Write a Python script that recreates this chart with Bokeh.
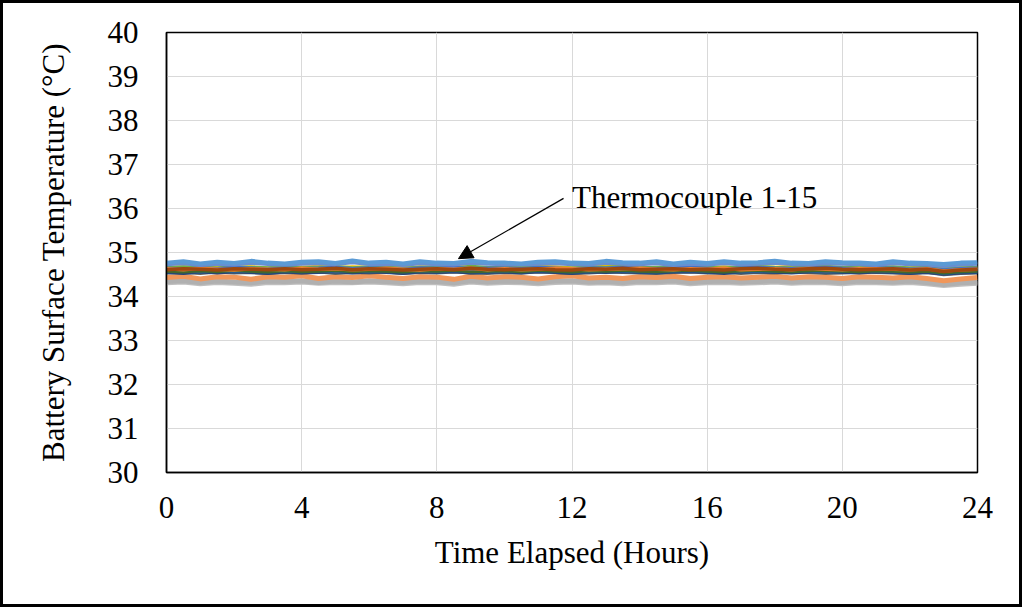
from bokeh.plotting import figure
from bokeh.models import Range1d, FixedTicker, Arrow, NormalHead, Label
from bokeh.embed import file_html
from bokeh.resources import INLINE

hours = [0, 0.5, 1, 1.5, 2, 2.5, 3, 3.5, 4, 4.5, 5, 5.5, 6, 6.5, 7, 7.5, 8, 8.5, 9, 9.5,
         10, 10.5, 11, 11.5, 12, 12.5, 13, 13.5, 14, 14.5, 15, 15.5, 16, 16.5, 17, 17.5,
         18, 18.5, 19, 19.5, 20, 20.5, 21, 21.5, 22, 22.5, 23, 23.5, 24]

tc1 = [34.64,34.62,34.65,34.63,34.66,34.64,34.62, 34.65,34.63,34.64,34.66,34.63,34.65,34.64,
       34.62,34.65,34.64,34.66,34.63,34.64,34.65, 34.63,34.66,34.64,34.62,34.65,34.64,34.66,
       34.64,34.63,34.65,34.66,34.64,34.62,34.65, 34.66,34.64,34.63,34.65,34.66,34.64,34.63,
       34.65,34.64,34.62,34.64,34.60,34.63,34.64]
tc2 = [34.63,34.61,34.64,34.62,34.60,34.63,34.62, 34.61,34.64,34.62,34.63,34.61,34.62,34.64,
       34.62,34.60,34.63,34.62,34.64,34.61,34.63, 34.61,34.62,34.64,34.63,34.61,34.62,34.63,
       34.64,34.62,34.61,34.63,34.62,34.64,34.61, 34.62,34.63,34.61,34.64,34.62,34.61,34.63,
       34.63,34.62,34.61,34.63,34.58,34.61,34.62]
tc3 = [34.34,34.36,34.32,34.35,34.33,34.31,34.35, 34.34,34.36,34.32,34.35,34.33,34.36,34.34,
       34.32,34.35,34.34,34.31,34.36,34.33,34.35, 34.34,34.32,34.35,34.36,34.33,34.34,34.32,
       34.35,34.34,34.36,34.32,34.34,34.35,34.33, 34.34,34.36,34.33,34.35,34.34,34.32,34.35,
       34.34,34.33,34.35,34.32,34.27,34.31,34.33]
tc4 = [34.66,34.67,34.65,34.68,34.66,34.67,34.65, 34.67,34.66,34.68,34.65,34.67,34.66,34.68,
       34.65,34.67,34.66,34.68,34.66,34.65,34.67, 34.66,34.68,34.67,34.65,34.66,34.68,34.67,
       34.66,34.65,34.67,34.68,34.66,34.67,34.65, 34.67,34.66,34.68,34.67,34.65,34.66,34.68,
       34.67,34.66,34.65,34.67,34.63,34.65,34.66]
tc5 = [34.77,34.80,34.75,34.79,34.76,34.81,34.77, 34.75,34.79,34.80,34.76,34.82,34.77,34.79,
       34.75,34.80,34.77,34.76,34.81,34.78,34.77, 34.75,34.79,34.80,34.77,34.76,34.81,34.78,
       34.77,34.80,34.75,34.79,34.76,34.80,34.77, 34.78,34.81,34.77,34.76,34.80,34.78,34.77,
       34.75,34.80,34.77,34.76,34.74,34.77,34.78]
tc6 = [34.65,34.67,34.66,34.64,34.67,34.66,34.65, 34.67,34.65,34.66,34.68,34.65,34.67,34.66,
       34.64,34.66,34.67,34.65,34.68,34.66,34.65, 34.66,34.67,34.65,34.64,34.67,34.66,34.68,
       34.65,34.66,34.67,34.65,34.66,34.64,34.67, 34.68,34.66,34.65,34.67,34.68,34.66,34.65,
       34.66,34.67,34.64,34.66,34.62,34.65,34.66]
tc7 = [34.55,34.53,34.56,34.54,34.57,34.55,34.53, 34.56,34.54,34.55,34.57,34.54,34.56,34.55,
       34.53,34.56,34.55,34.57,34.54,34.55,34.56, 34.54,34.57,34.55,34.53,34.56,34.55,34.57,
       34.55,34.54,34.56,34.57,34.55,34.53,34.56, 34.57,34.55,34.54,34.56,34.57,34.55,34.54,
       34.56,34.55,34.53,34.55,34.51,34.54,34.55]
tc8 = [34.61,34.63,34.62,34.60,34.63,34.62,34.61, 34.63,34.61,34.62,34.64,34.61,34.63,34.62,
       34.60,34.62,34.63,34.61,34.64,34.62,34.61, 34.62,34.63,34.61,34.60,34.63,34.62,34.64,
       34.61,34.62,34.63,34.61,34.62,34.60,34.63, 34.64,34.62,34.61,34.63,34.64,34.62,34.61,
       34.62,34.63,34.60,34.62,34.57,34.60,34.62]
tc9 = [34.54,34.55,34.53,34.56,34.54,34.55,34.53, 34.55,34.54,34.56,34.53,34.55,34.54,34.56,
       34.53,34.55,34.54,34.56,34.54,34.53,34.55, 34.54,34.56,34.55,34.53,34.54,34.56,34.55,
       34.54,34.53,34.55,34.56,34.54,34.55,34.53, 34.55,34.54,34.56,34.55,34.53,34.54,34.56,
       34.55,34.54,34.53,34.55,34.50,34.53,34.54]
tc10 = [34.60,34.61,34.59,34.62,34.60,34.61,34.59, 34.61,34.60,34.62,34.59,34.61,34.60,34.62,
        34.59,34.61,34.60,34.62,34.60,34.59,34.61, 34.60,34.62,34.61,34.59,34.60,34.62,34.61,
        34.60,34.59,34.61,34.62,34.60,34.61,34.59, 34.61,34.60,34.62,34.61,34.59,34.60,34.62,
        34.61,34.60,34.59,34.61,34.56,34.59,34.60]
tc11 = [34.57,34.58,34.56,34.59,34.57,34.58,34.56, 34.58,34.57,34.59,34.56,34.58,34.57,34.59,
        34.56,34.58,34.57,34.59,34.57,34.56,34.58, 34.57,34.59,34.58,34.56,34.57,34.59,34.58,
        34.57,34.56,34.58,34.59,34.57,34.58,34.56, 34.58,34.57,34.59,34.58,34.56,34.57,34.59,
        34.58,34.57,34.56,34.58,34.53,34.56,34.57]
tc12 = [34.58,34.56,34.59,34.57,34.60,34.58,34.56, 34.59,34.57,34.58,34.60,34.57,34.59,34.58,
        34.56,34.59,34.58,34.60,34.57,34.58,34.59, 34.57,34.60,34.58,34.56,34.59,34.58,34.60,
        34.58,34.57,34.59,34.60,34.58,34.56,34.59, 34.60,34.58,34.57,34.59,34.60,34.58,34.57,
        34.59,34.58,34.56,34.58,34.54,34.57,34.58]
tc13 = [34.73,34.75,34.71,34.74,34.72,34.76,34.73, 34.72,34.74,34.75,34.73,34.77,34.73,34.74,
        34.71,34.75,34.73,34.72,34.76,34.74,34.73, 34.72,34.74,34.75,34.73,34.72,34.76,34.74,
        34.73,34.75,34.71,34.74,34.72,34.75,34.73, 34.74,34.76,34.73,34.72,34.75,34.74,34.73,
        34.71,34.75,34.73,34.72,34.69,34.72,34.74]
tc14 = [34.43,34.46,34.40,34.45,34.44,34.39,34.45, 34.44,34.47,34.41,34.45,34.43,34.47,34.44,
        34.41,34.45,34.44,34.39,34.46,34.42,34.45, 34.44,34.40,34.45,34.47,34.42,34.44,34.41,
        34.45,34.43,34.46,34.41,34.44,34.45,34.42, 34.44,34.46,34.42,34.45,34.44,34.41,34.45,
        34.44,34.42,34.45,34.41,34.36,34.40,34.43]
tc15 = [34.31,34.33,34.29,34.32,34.30,34.28,34.32, 34.31,34.33,34.30,34.32,34.31,34.33,34.31,
        34.29,34.32,34.31,34.28,34.33,34.30,34.32, 34.31,34.29,34.32,34.33,34.30,34.31,34.29,
        34.32,34.31,34.33,34.29,34.31,34.32,34.30, 34.31,34.33,34.30,34.32,34.31,34.29,34.32,
        34.31,34.30,34.32,34.29,34.25,34.28,34.30]

series = [tc15, tc3, tc14, tc4, tc9, tc7, tc11, tc10, tc12, tc6, tc1, tc2, tc8, tc13, tc5]
colors = ["#BFBFBF", "#B0B0B0", "#F1975A", "#FFC000", "#636363", "#264478", "#255E91",
          "#997300", "#43682B", "#70AD47", "#4472C4", "#ED7D31", "#9E480E", "#698ED0", "#5B9BD5"]
widths = [5.0, 5.0, 5.0, 3.5, 3.5, 3.5, 3.5, 3.5, 3.5, 3.5, 3.5, 3.5, 3.5, 3.5, 4.0]

x_ticks = [0, 4, 8, 12, 16, 20, 24]
y_ticks = [30, 31, 32, 33, 34, 35, 36, 37, 38, 39, 40]

FONT = "Liberation Serif"
B = 3  # outer border thickness

p = figure(width=1022, height=607, output_backend="svg", toolbar_location=None,
           x_range=Range1d(0, 24), y_range=Range1d(30, 40),
           min_border_left=166 - B, min_border_right=45 + B,
           min_border_top=32 - B, min_border_bottom=135 + B)
p.styles = {"border": f"{B}px solid black"}

for ys, c, w in zip(series, colors, widths):
    p.line(hours, ys, line_color=c, line_width=w)

p.xaxis.ticker = FixedTicker(ticks=x_ticks)
p.yaxis.ticker = FixedTicker(ticks=y_ticks)
p.axis.major_tick_line_color = None
p.axis.minor_tick_line_color = None
p.axis.axis_line_color = "black"
p.axis.axis_line_width = 1.5
p.axis.major_label_text_font = FONT
p.axis.major_label_text_font_size = "31px"
p.axis.major_label_text_color = "black"
p.axis.axis_label_text_font = FONT
p.axis.axis_label_text_font_size = "31px"
p.axis.axis_label_text_font_style = "normal"
p.axis.axis_label_text_color = "black"
p.xaxis.axis_label = "Time Elapsed (Hours)"
p.yaxis.axis_label = "Battery Surface Temperature (°C)"
p.xaxis.major_label_standoff = 18
p.yaxis.major_label_standoff = 22
p.xaxis.axis_label_standoff = 14
p.yaxis.axis_label_standoff = 34

p.xgrid.ticker = FixedTicker(ticks=x_ticks)
p.ygrid.ticker = FixedTicker(ticks=y_ticks)
p.grid.grid_line_color = "#D9D9D9"
p.grid.grid_line_width = 1

p.outline_line_color = "black"
p.outline_line_width = 1.5

p.add_layout(Arrow(end=NormalHead(size=14, fill_color="black", line_color="black"),
                   x_start=11.75, y_start=36.23, x_end=8.64, y_end=34.86,
                   line_color="black", line_width=1.2))
p.add_layout(Label(x=12.0, y=36.25, text="Thermocouple 1-15", text_font=FONT,
                   text_font_size="31px", text_color="black", text_baseline="middle",
                   text_align="left"))

open("out.html", "w").write(file_html(p, INLINE))
